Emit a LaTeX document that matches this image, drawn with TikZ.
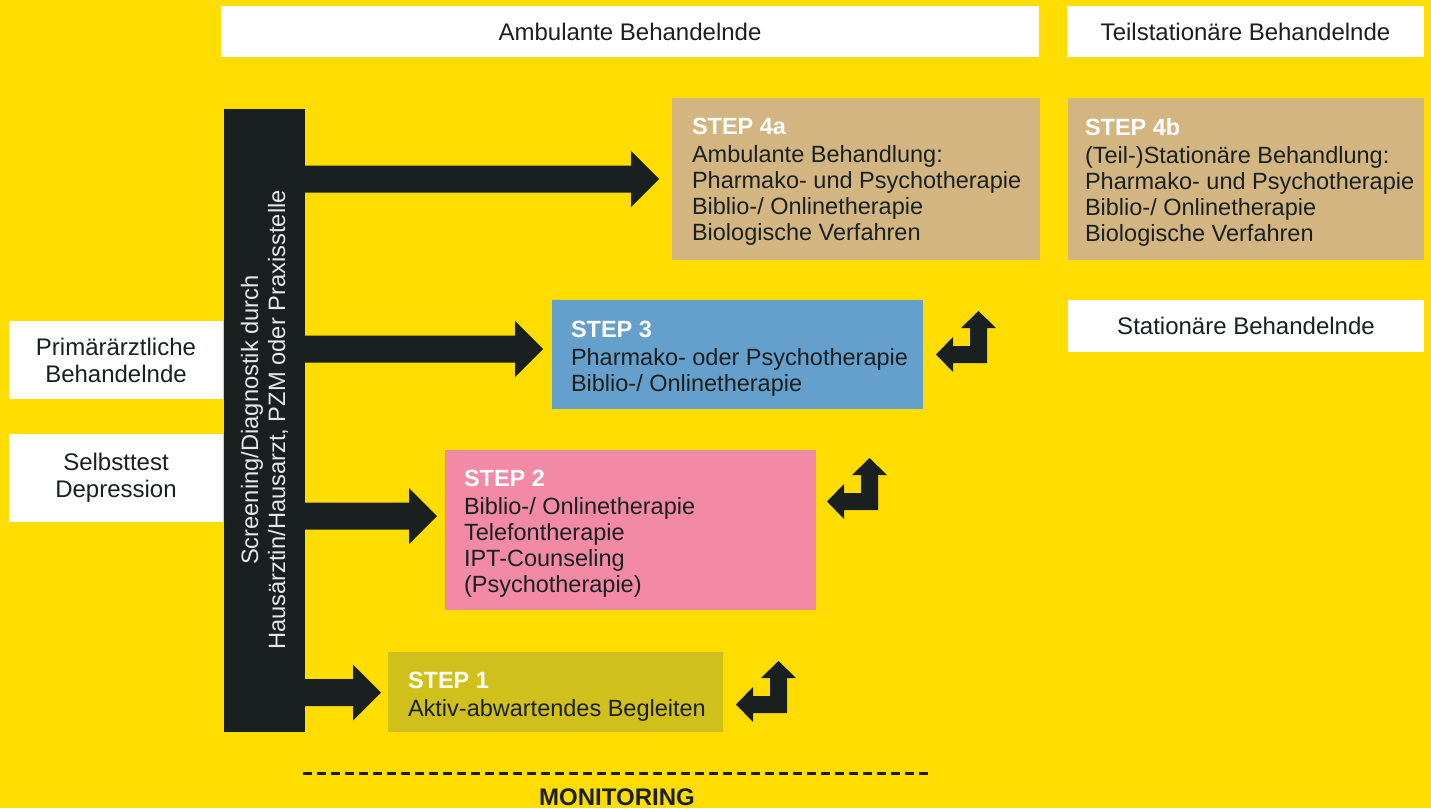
\documentclass[tikz,border=0pt]{standalone}
\usepackage{fontspec}
\setmainfont{Liberation Sans}
\usetikzlibrary{calc}
\definecolor{bgyellow}{HTML}{FFDD00}
\definecolor{ink}{HTML}{1A2020}
\definecolor{steptan}{HTML}{D2B581}
\definecolor{stepblue}{HTML}{659FCB}
\definecolor{steppink}{HTML}{F28AA6}
\definecolor{stepolive}{HTML}{CFC01B}
\definecolor{bartext}{HTML}{E6E8E8}
\newcommand{\fatarrow}[2]{%
  \fill[ink] ($(#1)+(0,-13.5)$) -- ($(#2)+(-28,-13.5)$) -- ($(#2)+(-28,-28)$) -- (#2)
    -- ($(#2)+(-28,28)$) -- ($(#2)+(-28,13.5)$) -- ($(#1)+(0,13.5)$) -- cycle;}
\newcommand{\bentarrow}[1]{%
  \fill[ink] (#1) -- ++(-34,0) -- ++(0,9) -- ++(-17,-17.5) -- ++(17,-17.5) -- ++(0,9)
    -- ++(17,0) -- ++(0,-18) -- ++(-9,0) -- ++(17.5,-17) -- ++(17.5,17) -- ++(-9,0) -- cycle;}
\begin{document}
\begin{tikzpicture}[x=1pt,y=-1pt,
  every node/.style={font=\fontsize{23.5}{26}\selectfont, text=ink},
  panel/.style={draw=none, inner sep=0pt, outer sep=0pt, anchor=north west},
  header/.style={panel, fill=white, align=center, font=\fontsize{24}{27}\selectfont},
  boxtext/.style={anchor=north west, inner sep=0pt, outer sep=0pt, align=left}
]
\useasboundingbox (0,0) rectangle (1431,808);
\fill[bgyellow] (0,0) rectangle (1431,808);

% headers
\node[header, minimum width=818pt, minimum height=51pt] (amb) at (221,6) {Ambulante Behandelnde};
\node[header, minimum width=357pt, minimum height=51pt] (teil) at (1067,6) {Teilstationäre Behandelnde};
\node[header, minimum width=356pt, minimum height=52pt] (stat) at (1068,300) {Stationäre Behandelnde};

% left boxes
\node[header, minimum width=214pt, minimum height=78pt] (prim) at (9,321) {Primärärztliche\\Behandelnde};
\node[header, minimum width=214pt, minimum height=88pt] (selbst) at (9,434) {Selbsttest\\Depression};

% vertical bar
\node[panel, fill=ink, minimum width=81pt, minimum height=623pt] (bar) at (224,109) {};
\node[rotate=90, align=center, text=bartext, inner sep=0pt, font=\fontsize{23.7}{27}\selectfont] (bartxt) at (bar.center |- 0,420)
  {Screening/Diagnostik durch\\Hausärztin/Hausarzt, PZM oder Praxisstelle};

% step boxes
\node[panel, fill=steptan, minimum width=368pt, minimum height=162pt] (s4a) at (672,98) {};
\node[boxtext] (s4atxt) at ($(s4a.north west)+(20,20)$)
  {{\bfseries\color{white}STEP 4a}\\[2pt]Ambulante Behandlung:\\Pharmako- und Psychotherapie\\Biblio-/ Onlinetherapie\\Biologische Verfahren};

\node[panel, fill=steptan, minimum width=356pt, minimum height=162pt] (s4b) at (1068,98) {};
\node[boxtext] (s4btxt) at ($(s4b.north west)+(17,20)$)
  {{\bfseries\color{white}STEP 4b}\\[2pt](Teil-)Stationäre Behandlung:\\Pharmako- und Psychotherapie\\Biblio-/ Onlinetherapie\\Biologische Verfahren};

\node[panel, fill=stepblue, minimum width=371pt, minimum height=109pt] (s3) at (552,300) {};
\node[boxtext] (s3txt) at ($(s3.north west)+(19,21)$)
  {{\bfseries\color{white}STEP 3}\\[2pt]Pharmako- oder Psychotherapie\\Biblio-/ Onlinetherapie};

\node[panel, fill=steppink, minimum width=371pt, minimum height=160pt] (s2) at (445,450) {};
\node[boxtext] (s2txt) at ($(s2.north west)+(19,20)$)
  {{\bfseries\color{white}STEP 2}\\[2pt]Biblio-/ Onlinetherapie\\Telefontherapie\\IPT-Counseling\\(Psychotherapie)};

\node[panel, fill=stepolive, minimum width=335pt, minimum height=80pt] (s1) at (388,652) {};
\node[boxtext] (s1txt) at ($(s1.north west)+(20,20)$)
  {{\bfseries\color{white}STEP 1}\\[2pt]Aktiv-abwartendes Begleiten};

% fat arrows from the bar to the steps
\coordinate (t4a) at ($(s4a.west)+(-13,0)$);
\coordinate (t3) at (543,349);
\coordinate (t2) at (437,516);
\coordinate (t1) at (381,692.5);
\coordinate (b4a) at (bar.east |- t4a);
\coordinate (b3) at (bar.east |- t3);
\coordinate (b2) at (bar.east |- t2);
\coordinate (b1) at (bar.east |- t1);
\fatarrow{b4a}{t4a}
\fatarrow{b3}{t3}
\fatarrow{b2}{t2}
\fatarrow{b1}{t1}

% bent arrows
\coordinate (c3) at ($(s3.north east)+(64,63)$);
\coordinate (c2) at ($(s2.north east)+(62,60)$);
\coordinate (c1) at ($(s1.north east)+(64,61)$);
\bentarrow{c3}
\bentarrow{c2}
\bentarrow{c1}

% monitoring
\coordinate (m1) at (303,773);
\coordinate (m2) at (932,773);
\draw[ink, line width=3pt, dash pattern=on 9pt off 5pt] (m1) -- (m2);
\node[font=\bfseries\fontsize{24}{26}\selectfont, anchor=base, inner sep=0pt] (mon) at (617,805) {MONITORING};
\end{tikzpicture}
\end{document}
